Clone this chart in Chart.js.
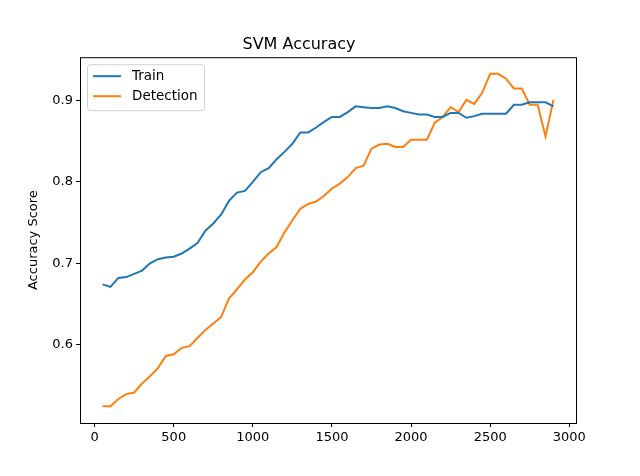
<!DOCTYPE html>
<html>
<head>
<script src="https://cdn.jsdelivr.net/npm/chart.js@4"></script>
<style>body{margin:0;background:#fff}#wrap{width:640px;height:476px}</style>
</head>
<body>
<div id="wrap"><canvas id="svmChart"></canvas></div>
<script>
const steps = [];
for (let s = 50; s <= 2900; s += 50) steps.push(s);

const trainScores = [0.674, 0.671, 0.682, 0.683, 0.687, 0.691, 0.700, 0.705, 0.707, 0.708,
  0.712, 0.718, 0.725, 0.740, 0.749, 0.760, 0.777, 0.787, 0.789, 0.800,
  0.812, 0.817, 0.828, 0.837, 0.847, 0.861, 0.861, 0.867, 0.874, 0.880,
  0.880, 0.886, 0.893, 0.892, 0.891, 0.891, 0.893, 0.891, 0.887, 0.885,
  0.883, 0.883, 0.880, 0.880, 0.885, 0.885, 0.879, 0.881, 0.884, 0.884,
  0.884, 0.884, 0.895, 0.895, 0.898, 0.898, 0.898, 0.893];
const detectionScores = [0.524, 0.524, 0.533, 0.539, 0.541, 0.552, 0.561, 0.571, 0.586, 0.588,
  0.596, 0.598, 0.608, 0.618, 0.626, 0.634, 0.657, 0.668, 0.680, 0.689,
  0.702, 0.712, 0.720, 0.738, 0.753, 0.767, 0.773, 0.776, 0.783, 0.792,
  0.798, 0.806, 0.817, 0.820, 0.841, 0.846, 0.847, 0.843, 0.843, 0.852,
  0.852, 0.852, 0.873, 0.880, 0.892, 0.886, 0.901, 0.896, 0.910, 0.933,
  0.933, 0.927, 0.915, 0.915, 0.895, 0.895, 0.856, 0.901];
const xTicks = [0, 500, 1000, 1500, 2000, 2500, 3000];
const yTicks = [0.6, 0.7, 0.8, 0.9];

const toPoints = arr => arr.map((v, i) => ({ x: steps[i], y: v }));

// frame + legend drawn inside the plot like matplotlib
const framePlugin = {
  id: 'frame',
  afterDraw(chart) {
    const { ctx, chartArea: a } = chart;
    ctx.save();
    ctx.strokeStyle = '#000';
    ctx.lineWidth = 1;
    ctx.strokeRect(a.left + 0.5, a.top + 0.5, a.right - a.left, a.bottom - a.top);
    const lx = a.left + 7, ly = a.top + 7, lw = 117, lh = 46;
    ctx.strokeStyle = '#d0d0d0';
    ctx.fillStyle = 'rgba(255,255,255,0.8)';
    ctx.beginPath();
    ctx.roundRect(lx + 0.5, ly + 0.5, lw, lh, 3);
    ctx.fill();
    ctx.stroke();
    ctx.font = '13.5px "DejaVu Sans"';
    ctx.textBaseline = 'middle';
    chart.data.datasets.forEach((ds, i) => {
      const y = ly + 12 + i * 20;
      ctx.strokeStyle = ds.borderColor;
      ctx.lineWidth = 2;
      ctx.beginPath();
      ctx.moveTo(lx + 6, y);
      ctx.lineTo(lx + 34, y);
      ctx.stroke();
      ctx.fillStyle = '#000';
      ctx.fillText(ds.label, lx + 45, y);
    });
    ctx.restore();
  }
};

new Chart(document.getElementById('svmChart'), {
  type: 'line',
  data: {
    datasets: [
      { label: 'Train', data: toPoints(trainScores), borderColor: '#1f77b4' },
      { label: 'Detection', data: toPoints(detectionScores), borderColor: '#ff7f0e' }
    ]
  },
  options: {
    responsive: true,
    maintainAspectRatio: false,
    animation: false,
    elements: { point: { radius: 0 }, line: { borderWidth: 2, tension: 0 } },
    layout: { padding: { right: 64, left: 22, bottom: 0, top: 0 } },
    plugins: {
      legend: { display: false },
      tooltip: { enabled: false },
      title: {
        display: true, text: 'SVM Accuracy', color: '#000',
        font: { family: 'DejaVu Sans', size: 16, weight: 'normal' },
        padding: { top: 35, bottom: 3 }
      }
    },
    scales: {
      x: {
        type: 'linear', min: -92.5, max: 3042.5,
        afterBuildTicks: s => { s.ticks = xTicks.map(v => ({ value: v })); },
        afterFit: s => { s.height = 53; },
        grid: { drawOnChartArea: false, tickLength: 4, color: '#000' },
        border: { display: false },
        ticks: { color: '#000', font: { family: 'DejaVu Sans', size: 13 }, padding: 3, maxRotation: 0, callback: v => String(v) }
      },
      y: {
        min: 0.5035, max: 0.9535,
        afterBuildTicks: s => { s.ticks = yTicks.map(v => ({ value: v })); },
        afterFit: s => { s.width = 58; },
        grid: { drawOnChartArea: false, tickLength: 4, color: '#000' },
        border: { display: false },
        title: { display: true, text: 'Accuracy Score', color: '#000', font: { family: 'DejaVu Sans', size: 13 } },
        ticks: { color: '#000', font: { family: 'DejaVu Sans', size: 13 }, padding: 3, callback: v => v.toFixed(1) }
      }
    }
  },
  plugins: [framePlugin]
});
</script>
</body>
</html>
